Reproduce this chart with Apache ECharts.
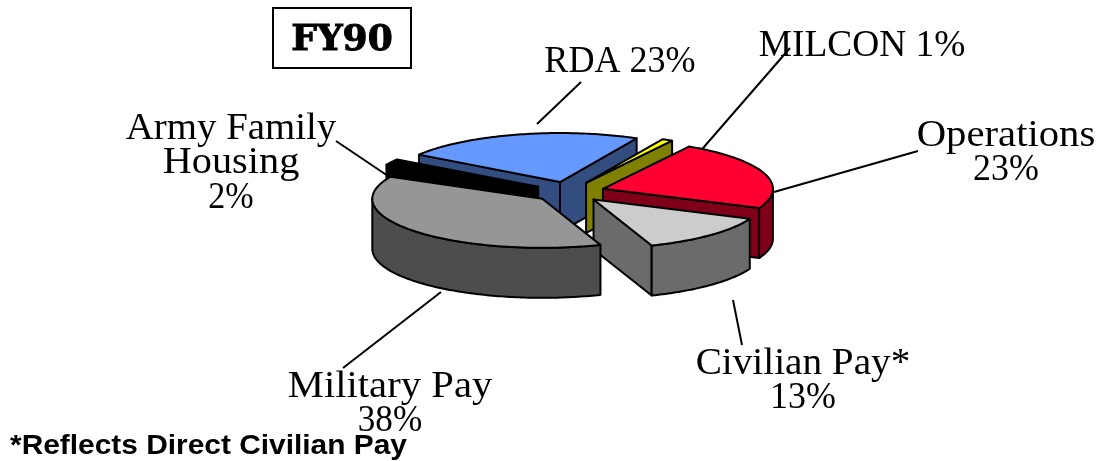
<!DOCTYPE html>
<html>
<head>
<meta charset="utf-8">
<title>FY90</title>
<style>
  html, body { margin: 0; padding: 0; background: #fff; }
  #chart { width: 1098px; height: 461px; }
</style>
<script src="https://cdn.jsdelivr.net/npm/echarts@6/dist/echarts.min.js"></script>
</head>
<body>
<div id="chart"></div>
<script>
// slices run clockwise from the front right edge of Military Pay
const categories = ['Military Pay', 'Army Family\nHousing', 'RDA', 'MILCON', 'Operations', 'Civilian Pay*']
const shares = [38, 2, 23, 1, 23, 13]
const topColors = ['#969696', '#000000', '#6699ff', '#ffff00', '#ff0033', '#cccccc']
const sideColors = ['#4d4d4d', '#000000', '#334d80', '#808000', '#800019', '#6b6b6b']
// painter's order, back of the pie first
const drawOrder = [2, 3, 4, 1, 5, 0]

const cx = 569, cy = 192
const rx = 170, ry = 49
const depth = 50
const explode = 0.21
const startAngle = 70

const total = shares.reduce((a, b) => a + b, 0)
let running = 0
const slices = shares.map(v => {
  const t0 = startAngle + echarts.number.linearMap(running, [0, total], [0, 360])
  running += v
  const t1 = startAngle + echarts.number.linearMap(running, [0, total], [0, 360])
  return { t0, t1 }
})

const rad = d => d * Math.PI / 180
const arc = (ox, oy, a, b) => {
  const pts = []
  const n = Math.max(2, Math.ceil(Math.abs(b - a)))
  for (let i = 0; i <= n; i++) {
    const t = rad(a + (b - a) * i / n)
    pts.push([ox + rx * Math.cos(t), oy + ry * Math.sin(t)])
  }
  return pts
}

function renderSlice(params, api) {
  const idx = api.value(0)
  const { t0, t1 } = slices[idx]
  const mid = rad((t0 + t1) / 2)
  const ox = cx + explode * rx * Math.cos(mid)
  const oy = cy + explode * ry * Math.sin(mid)
  const side = { fill: sideColors[idx], stroke: '#000', lineWidth: 2, lineJoin: 'round' }
  const children = []
  const wallFace = (a, b) => {
    const top = arc(ox, oy, a, b)
    const bottom = top.map(p => [p[0], p[1] + depth]).reverse()
    children.push({ type: 'polygon', shape: { points: top.concat(bottom) }, style: side })
  }
  const capFace = t => {
    const p = arc(ox, oy, t, t)[0]
    children.push({
      type: 'polygon',
      shape: { points: [[ox, oy], p, [p[0], p[1] + depth], [ox, oy + depth]] },
      style: side
    })
  }
  // only the faces turned towards the viewer
  if (Math.cos(rad(t0)) < 0) capFace(t0)
  if (Math.cos(rad(t1)) > 0) capFace(t1)
  // the wall shows where the angle is between 0 and 180, also after wrapping past 360
  ;[0, 360].forEach(base => {
    const a = Math.max(t0, base), b = Math.min(t1, base + 180)
    if (b > a) wallFace(a, b)
  })
  children.push({
    type: 'polygon',
    shape: { points: [[ox, oy]].concat(arc(ox, oy, t0, t1)) },
    style: { fill: topColors[idx], stroke: '#000', lineWidth: 2, lineJoin: 'round' }
  })
  return { type: 'group', children }
}

const labelFont = '37px "Liberation Serif", serif'
const labelAt = [[390, 387], [231, 129], [620, 62], [862, 46], [1006, 136], [803, 364]]
const lineHeight = 34.5
// the reference face is wider than Liberation Serif, words more than digits
const labelStretch = [[1.1, 0.95], [1.05, 1.09, 0.92], [0.975], [1.01], [1.1, 0.97], [1.06, 0.97]]

const labelText = i => categories[i].split('\n').concat(shares[i] + '%')
const labelItems = []
categories.forEach((c, i) => {
  const lines = labelText(i)
  // RDA and MILCON sit on one line in the reference
  const rows = (i === 2 || i === 3) ? [lines.join(' ')] : lines
  rows.forEach((t, r) => {
    labelItems.push({
      type: 'text',
      x: labelAt[i][0],
      y: labelAt[i][1] + r * lineHeight,
      scaleX: labelStretch[i][r],
      silent: true,
      style: { text: t, font: labelFont, fill: '#000', textAlign: 'center', textVerticalAlign: 'middle' }
    })
  })
})

// leader lines from the labels to the slices
const leaders = [
  [[441, 292], [343, 368]],
  [[336, 141], [388, 176]],
  [[581, 82], [537, 124]],
  [[790, 48], [697, 155]],
  [[918, 151], [774, 192]],
  [[733, 300], [742, 345]]
]
const leaderItems = leaders.map(l => ({
  type: 'line',
  shape: { x1: l[0][0], y1: l[0][1], x2: l[1][0], y2: l[1][1] },
  style: { stroke: '#000', lineWidth: 2 },
  silent: true
}))

const chart = echarts.init(document.getElementById('chart'), null, { renderer: 'canvas' })
chart.setOption({
  animation: false,
  backgroundColor: '#fff',
  series: [{
    type: 'custom',
    coordinateSystem: 'none',
    renderItem: renderSlice,
    data: drawOrder.map(i => [i]),
    silent: true,
    z: 1
  }],
  graphic: { elements: [
    ...leaderItems,
    ...labelItems,
    {
      type: 'rect',
      shape: { x: 273, y: 8, width: 138, height: 60 },
      style: { fill: '#fff', stroke: '#000', lineWidth: 2 }
    },
    {
      type: 'text',
      x: 342,
      y: 41,
      style: { text: 'FY90', font: 'bold 36px "DejaVu Serif", serif', fill: '#000', stroke: '#000', lineWidth: 1, textAlign: 'center', textVerticalAlign: 'middle' }
    },
    {
      type: 'text',
      x: 10,
      y: 446,
      scaleX: 1.067,
      style: { text: '*Reflects Direct Civilian Pay', font: 'bold 28px "Liberation Sans", Arial, sans-serif', fill: '#000', textAlign: 'left', textVerticalAlign: 'middle' }
    }
  ] }
})
</script>
</body>
</html>
